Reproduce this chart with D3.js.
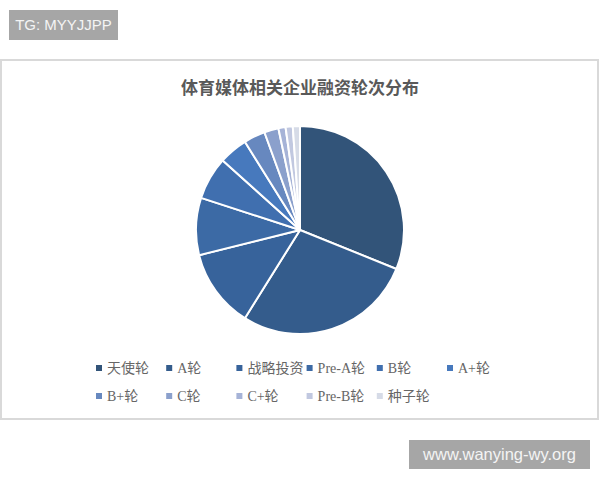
<!DOCTYPE html>
<html><head><meta charset="utf-8">
<script src="https://cdn.jsdelivr.net/npm/d3@7/dist/d3.min.js"></script>
<style>body{margin:0;background:#fff;}svg{display:block;}</style>
</head><body>
<script>
const categories = ["天使轮","A轮","战略投资","Pre-A轮","B轮","A+轮","B+轮","C轮","C+轮","Pre-B轮","种子轮"];
const values = [28,25,11,8,6,4,3,2,1,1,1];
const colors = ["#325479","#345c8c","#37639b","#3c6aa5","#406faf","#4779bd","#6788bf","#8ba0cc","#a6b3d7","#c1c8e0","#d6dbe7"];
const title = "体育媒体相关企业融资轮次分布";

const W=600,H=480;
const svg=d3.select("body").append("svg").attr("width",W).attr("height",H);
svg.append("rect").attr("x",1).attr("y",60).attr("width",597).attr("height",359)
  .attr("fill","#fff").attr("stroke","#d9d9d9").attr("stroke-width",2);

svg.append("text").attr("x",300).attr("y",94).attr("text-anchor","middle")
  .attr("font-family","'Noto Sans CJK SC'").attr("font-weight",700).attr("font-size",17)
  .attr("fill","#595959").text(title);

const data = categories.map((c,i)=>({c,v:values[i],col:colors[i]}));
const pie=d3.pie().value(d=>d.v).sort(null);
const arc=d3.arc().innerRadius(0).outerRadius(104);
const g=svg.append("g").attr("transform","translate(300,230)");
g.selectAll("path").data(pie(data)).join("path")
  .attr("d",arc).attr("fill",d=>d.data.col).attr("stroke","#fff").attr("stroke-width",2).attr("stroke-linejoin","round");

const colX=d3.scalePoint().domain(d3.range(6)).range([96,447]);
const rowY=d3.scalePoint().domain([0,1]).range([368,396]);
const lg=svg.append("g");
data.forEach((d,i)=>{
  const cx=colX(i%6), cy=rowY(Math.floor(i/6));
  lg.append("rect").attr("x",cx).attr("y",cy-3).attr("width",6).attr("height",6).attr("fill",d.col);
  lg.append("text").attr("x",cx+11).attr("y",cy+5).attr("font-family","'Liberation Serif','Noto Sans CJK SC'")
    .attr("font-size",14).attr("fill","#666").text(d.c);
});

function badge(x,y,w,h,t,fs){
  svg.append("rect").attr("x",x).attr("y",y).attr("width",w).attr("height",h).attr("fill","#a6a6a6");
  svg.append("text").attr("x",x+w/2).attr("y",y+h/2+fs*0.36).attr("text-anchor","middle")
    .attr("font-family","'Liberation Sans',Arial").attr("font-size",fs).attr("fill","#f4f4f4").text(t);
}
badge(9,10,109,30,"TG: MYYJJPP",15);
badge(409,440,181,29,"www.wanying-wy.org",16.5);
</script>
</body></html>
